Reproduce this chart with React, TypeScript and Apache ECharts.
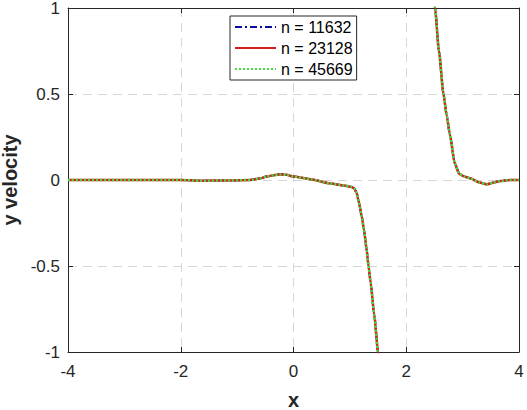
import React, { useEffect, useRef } from "react";
import * as echarts from "echarts";

// Curve sampled along x; null marks the jump between the two branches (outside the y range)
const curveX = [-4, -3, -2, -1.66, -1.2, -0.77, -0.6, -0.48, -0.35, -0.24, -0.12, 0, 0.3, 0.65, 0.9, 1.03, 1.08, 1.12, 1.16, 1.21, 1.25, 1.3, 1.33, 1.37, 1.43, 1.5, 1.56, 2.0, 2.45, 2.51, 2.58, 2.66, 2.72, 2.77, 2.86, 2.94, 3.03, 3.13, 3.3, 3.43, 3.55, 3.66, 3.84, 4.0];
const curveY: (number | null)[] = [0, 0, 0, -0.004, -0.003, 0, 0.008, 0.02, 0.028, 0.033, 0.03, 0.02, 0.005, -0.02, -0.032, -0.04, -0.05, -0.075, -0.13, -0.21, -0.29, -0.41, -0.5, -0.6, -0.78, -1.0, -1.2, null, 1.2, 1.0, 0.75, 0.5, 0.37, 0.27, 0.097, 0.035, 0.02, 0.01, -0.015, -0.025, -0.015, -0.006, 0, 0];

const seriesNames = ["n = 11632", "n = 23128", "n = 45669"];
const xTicks = { min: -4, max: 4, interval: 2 };
const yTicks = { min: -1, max: 1, interval: 0.5 };

const FONT = "'Liberation Sans', Arial, Helvetica, sans-serif";

export default function App() {
  const ref = useRef<HTMLDivElement>(null);
  useEffect(() => {
    if (!ref.current) return;
    const chart = echarts.init(ref.current, undefined, { renderer: "svg" });
    const data = curveX.map((x, i) => [x, curveY[i] === null ? "-" : curveY[i]]);
    const axisColor = "#262626";
    const tick = { show: true, inside: true, length: 5, lineStyle: { color: axisColor } };
    const line = { show: true, onZero: false, lineStyle: { color: axisColor, width: 1 } };
    const grid = { show: true, lineStyle: { color: "#d6d6d6", type: [9, 6], width: 1 } };
    const styles = [
      { color: "#0b0b9e", type: [7, 3, 2, 3], width: 2 },
      { color: "#d41f1f", type: "solid", width: 2.5 },
      { color: "#45de45", type: [2, 2], width: 2.5 },
    ];
    chart.setOption({
      animation: false,
      backgroundColor: "#ffffff",
      grid: { left: 68, right: 8, top: 8, bottom: 58, containLabel: false, outerBoundsMode: "none" },
      legend: {
        orient: "vertical",
        left: 230,
        top: 16,
        backgroundColor: "#ffffff",
        borderColor: axisColor,
        borderWidth: 1,
        borderRadius: 0,
        padding: [3, 4, 3, 4],
        itemGap: 5,
        itemWidth: 41,
        itemHeight: 14,
        itemStyle: { opacity: 0 },
        textStyle: { fontSize: 16, color: "#000", fontFamily: FONT },
        data: seriesNames,
      },
      xAxis: [
        {
          type: "value",
          position: "bottom",
          ...xTicks,
          axisLine: line,
          axisTick: tick,
          splitLine: grid,
          axisLabel: { fontSize: 17, color: axisColor, fontFamily: FONT, margin: 11 },
          name: "x",
          nameLocation: "middle",
          nameGap: 41,
          nameTextStyle: { fontSize: 20, lineHeight: 14, fontWeight: "bold", color: axisColor, fontFamily: FONT },
        },
        {
          type: "value",
          position: "top",
          ...xTicks,
          axisLine: line,
          axisTick: tick,
          splitLine: { show: false },
          axisLabel: { show: false },
        },
      ],
      yAxis: [
        {
          type: "value",
          position: "left",
          ...yTicks,
          axisLine: line,
          axisTick: tick,
          splitLine: grid,
          axisLabel: { fontSize: 17, color: axisColor, fontFamily: FONT, margin: 8 },
          name: "y velocity",
          nameLocation: "middle",
          nameGap: 47,
          nameTextStyle: { fontSize: 20, fontWeight: "bold", color: axisColor, fontFamily: FONT },
        },
        {
          type: "value",
          position: "right",
          ...yTicks,
          axisLine: line,
          axisTick: tick,
          splitLine: { show: false },
          axisLabel: { show: false },
        },
      ],
      series: seriesNames.map((name, i) => ({
        name,
        type: "line",
        xAxisIndex: 0,
        yAxisIndex: 0,
        data,
        showSymbol: false,
        symbol: "none",
        smooth: 0.2,
        smoothMonotone: "x",
        clip: true,
        connectNulls: false,
        itemStyle: { color: styles[i].color },
        lineStyle: styles[i],
        z: 2 + i,
      })),
    });
    return () => chart.dispose();
  }, []);
  return (
    <div
      ref={ref}
      style={{ position: "fixed", left: 0, top: 0, width: 527, height: 410 }}
    />
  );
}
